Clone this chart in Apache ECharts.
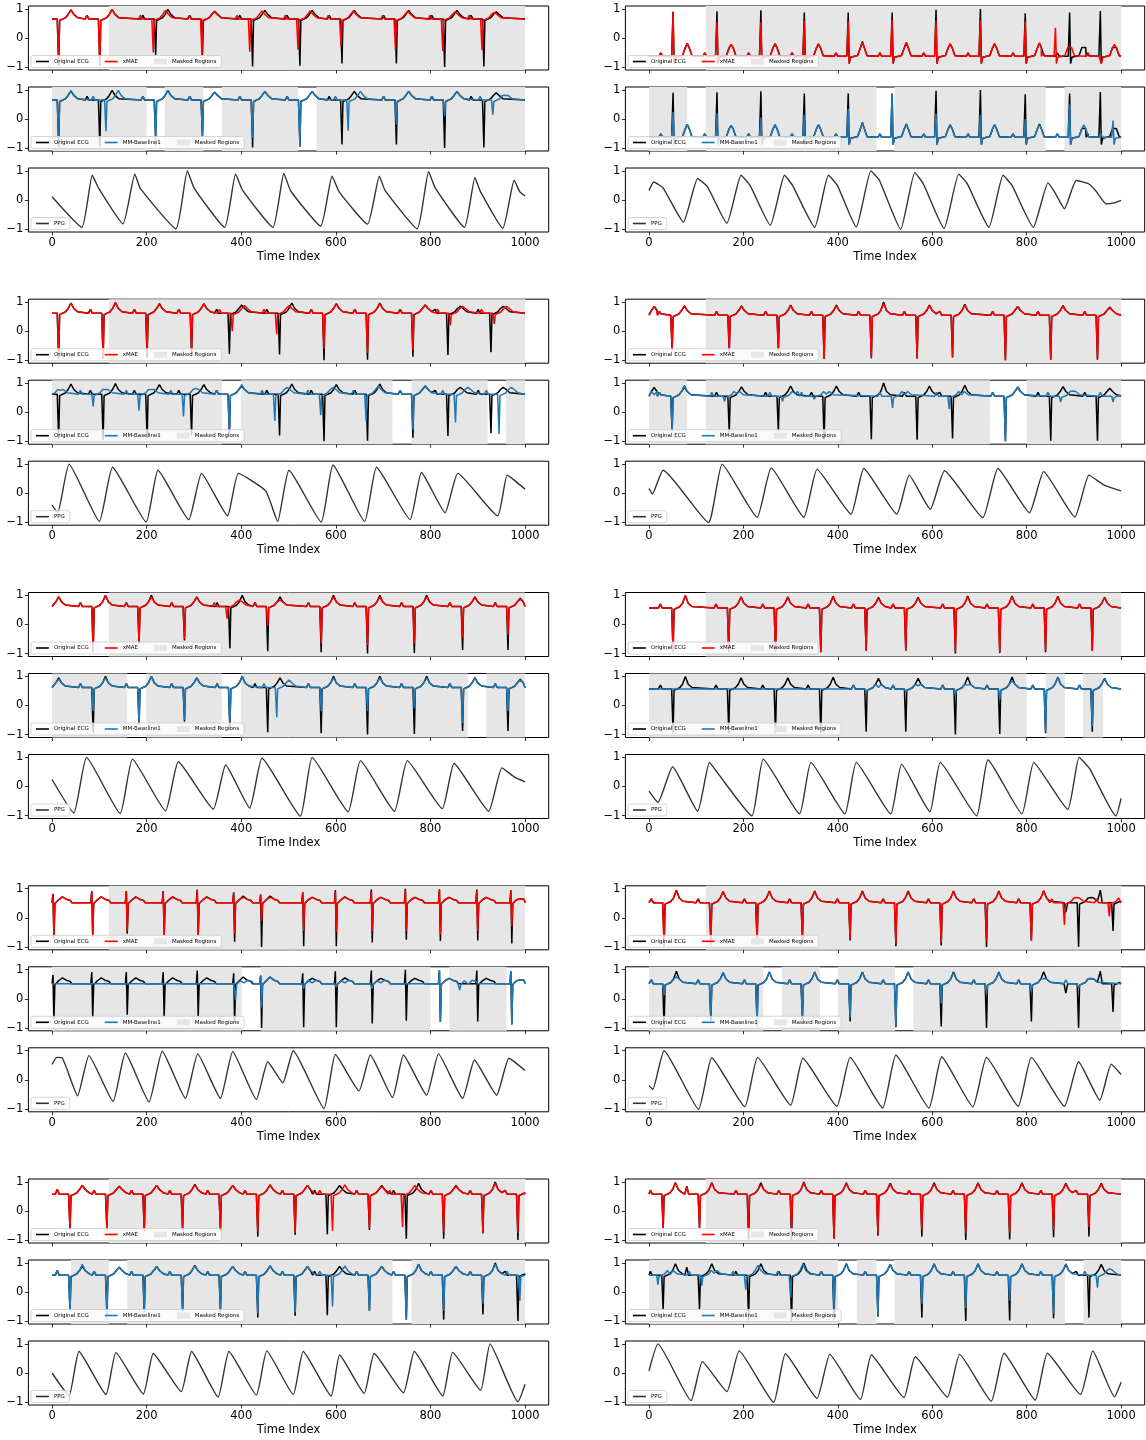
<!DOCTYPE html>
<html><head><meta charset="utf-8">
<script src="https://cdn.jsdelivr.net/npm/echarts@6/dist/echarts.min.js"></script>
<style>html,body{margin:0;padding:0;background:#fff}#c{width:1146px;height:1440px}</style>
</head><body><div id="c"></div><script>
// ---------- tick labels ----------
const xTickValues = [0, 200, 400, 600, 800, 1000];
const yTickValues = [-1, 0, 1];
// ---------- names ----------
const nameOrig = 'Original ECG', nameA = 'xMAE', nameB = 'MM-Baseline1', namePPG = 'PPG', nameMask = 'Masked Regions';

// ---------- data ----------
// ECG beats: [time index, spike value, T-wave peak, (optional P-wave value)]  (panel 7: [t, up, down, T])
// Panel 1
const ecg1 = [[14,-0.95,0.97],[101,-0.95,0.98],[219,-0.6,0.98],[318,-0.6,0.92],[424,-0.98,0.95],[524,-0.95,0.95],[613,-0.88,0.95],[728,-0.88,0.95],[830,-1.0,0.95],[913,-0.98,0.9]];
const xmae1 = [[14,-0.95,0.97],[101,-0.95,0.98],[214,-0.5,0.95],[317,-0.6,0.9],[418,-0.47,0.93],[520,-0.4,0.93],[611,-0.3,0.93],[726,-0.4,0.93],[826,-0.45,0.9],[909,-0.42,0.88]];
const mm1 = [[14,-0.6,0.97],[114,-0.42,0.98],[219,-0.95,0.98],[318,-0.6,0.92],[424,-0.65,0.95],[524,-0.95,0.95],[626,-0.4,0.95],[728,-0.2,0.95],[830,0.1,0.95],[932,0.15,0.82]];
const maskX1 = [[120,1000]];
const maskM1 = [[0,200],[238,320],[359,520],[559,1000]];
const ppg1 = [[0,0.11],[63,-0.94],[85,0.85],[99,0.39],[150,-0.82],[175,0.89],[187,0.39],[262,-0.99],[286,1.0],[301,0.39],[365,-0.94],[388,0.89],[403,0.33],[467,-0.94],[490,0.91],[505,0.3],[568,-0.9],[592,0.82],[607,0.28],[667,-0.83],[692,0.82],[704,0.33],[772,-0.99],[796,0.97],[811,0.39],[872,-0.94],[894,0.77],[906,0.28],[953,-0.97],[977,0.68],[989,0.28],[1000,0.14]];
// Panel 2
const ecg2 = [[51,0.9,-0.18],[144,0.92,-0.22],[237,0.95,-0.2],[329,0.88,-0.2],[422,0.88,-0.12],[515,0.88,-0.17],[608,0.97,-0.2],[702,1.0,-0.2],[797,0.85,-0.17],[891,0.88,-0.28],[956,0.93,-0.28]];
const xmae2 = [[51,0.9,-0.18],[144,0.56,-0.22],[237,0.55,-0.2],[329,0.58,-0.22],[422,0.57,-0.15],[515,0.63,-0.15],[608,0.6,-0.2],[702,0.6,-0.2],[797,0.57,-0.17],[861,0.35,-0.35],[956,-0.6,-0.22]];
const mm2 = [[51,0.24,-0.18],[144,0.2,-0.22],[237,0.05,-0.2],[329,0.15,-0.2],[422,0.35,-0.15],[515,0.88,-0.17],[608,0.18,-0.2],[702,0.15,-0.2],[797,0.0,-0.2],[891,0.5,-0.2],[983,-0.05,-0.5]];
const maskX2 = [[120,1000]];
const maskM2 = [[0,81],[120,482],[520,840],[880,1000]];
const ppg2 = [[0,0.33],[10,0.62],[30,0.41],[73,-0.76],[103,0.74],[124,0.45],[165,-0.8],[195,0.85],[214,0.5],[257,-0.87],[287,0.85],[304,0.5],[351,-0.94],[380,0.85],[399,0.5],[439,-0.93],[470,1.0],[488,0.68],[533,-1.01],[563,0.94],[581,0.56],[625,-0.98],[656,0.89],[674,0.56],[720,-0.94],[750,0.85],[769,0.5],[814,-0.94],[845,0.59],[859,0.28],[880,-0.3],[905,0.67],[932,0.55],[947,0.3],[968,-0.13],[985,-0.1],[1000,-0.01]];
// Panel 3
const ecg3 = [[14,-0.95,0.97],[108,-0.95,0.98],[201,-0.9,0.95],[295,-0.8,0.95],[375,-0.78,0.9],[481,-0.8,0.97],[575,-1.0,0.95],[667,-0.98,0.97],[763,-0.88,0.9],[837,-0.82,0.85],[928,-0.72,0.85]];
const xmae3 = [[14,-0.95,0.97],[108,-0.95,0.98],[201,-0.65,0.93],[295,-0.6,0.93],[381,0.0,0.88],[475,-0.1,0.88],[575,-0.6,0.93],[667,-0.75,0.95],[763,-0.65,0.9],[842,0.2,0.85],[935,0.25,0.85]];
const mm3 = [[-8,0.6,0.75],[87,0.2,0.78],[184,0.05,0.78],[278,-0.15,0.82],[375,-0.75,0.95],[471,-0.3,0.85],[568,-0.1,0.85],[664,-0.3,0.9],[763,-0.6,0.9],[853,-0.35,0.85],[945,-0.75,0.85]];
const maskX3 = [[120,1000]];
const maskM3 = [[0,359],[399,720],[760,921],[960,1000]];
const ppg3 = [[0,-0.41],[12,-0.67],[36,1.0],[100,-0.97],[128,0.89],[199,-0.99],[224,0.79],[289,-0.91],[316,0.68],[371,-0.78],[394,0.68],[452,0.07],[477,-0.97],[501,0.79],[569,-0.99],[594,0.97],[661,-0.97],[686,0.89],[757,-0.91],[781,0.71],[831,-0.67],[858,0.68],[942,-0.78],[962,0.62],[977,0.45],[1000,0.14]];
// Panel 4
const ecg4 = [[-15,0.55,0.85],[49,-0.65,0.87],[170,-0.7,0.87],[274,-0.65,0.9],[371,-0.95,0.9],[471,-0.93,1.0],[568,-0.95,0.9],[643,-0.9,0.92],[755,-1.0,0.85],[851,-0.98,0.88],[950,-0.98,0.82]];
const xmae4 = [[-15,0.55,0.85],[49,-0.65,0.87],[170,-0.65,0.85],[274,-0.65,0.88],[371,-0.95,0.87],[471,-0.9,0.95],[568,-0.92,0.88],[643,-0.88,0.9],[755,-1.0,0.85],[851,-0.95,0.85],[950,-0.95,0.8]];
const mm4 = [[-15,0.55,0.6],[49,-0.62,0.92],[160,0.37,0.65],[283,0.37,0.65],[350,0.45,0.62],[516,0.15,0.6],[636,0.1,0.6],[755,-1.0,0.88],[872,0.35,0.73],[983,0.35,0.55]];
const maskX4 = [[120,1000]];
const maskM4 = [[0,81],[120,722],[800,1000]];
const ppg4 = [[0,0.16],[7,-0.03],[30,0.79],[126,-1.01],[155,1.0],[229,-0.83],[259,0.87],[328,-0.83],[356,0.82],[428,-0.72],[455,0.85],[525,-0.72],[551,0.62],[596,-0.55],[626,0.77],[707,-0.84],[739,0.85],[806,-0.67],[836,0.74],[902,-0.82],[932,0.62],[964,0.28],[1000,0.08]];
// Panel 5
const ecg5 = [[-12,0.7,0.95],[87,-0.95,1.0],[184,-0.65,1.0],[280,-0.55,0.95],[376,-0.82,1.0],[456,-0.92,0.95],[569,-0.95,1.0],[667,-1.0,1.0],[766,-0.98,1.0],[868,-0.88,0.95],[964,-0.88,0.9]];
const xmae5 = [[-12,0.7,0.95],[87,-0.95,1.0],[184,-0.65,0.95],[280,-0.5,0.93],[370,0.2,0.85],[456,-0.05,0.85],[569,-0.65,0.95],[667,-0.7,0.95],[766,-0.65,0.95],[868,-0.45,0.92],[964,-0.35,0.88]];
const mm5 = [[-12,0.7,0.9],[87,-0.2,0.95],[184,-0.65,1.0],[280,-0.5,0.95],[376,-0.65,1.0],[475,-0.4,0.88],[569,-0.2,0.95],[667,-0.2,0.95],[766,-0.1,0.95],[868,-0.6,0.95],[964,-0.2,0.88]];
const maskX5 = [[120,1000]];
const maskM5 = [[0,159],[199,359],[399,879],[918,1000]];
const ppg5 = [[0,0.24],[46,-0.91],[73,1.0],[144,-0.93],[170,0.94],[240,-0.84],[267,0.85],[341,-0.78],[367,0.74],[418,-0.74],[444,0.97],[525,-1.02],[550,1.0],[626,-0.87],[652,0.89],[724,-0.85],[751,0.89],[825,-0.76],[850,0.79],[923,-0.85],[951,0.64],[977,0.33],[1000,0.16]];
// Panel 6
const ecg6 = [[51,-0.95,1.0],[169,-0.95,0.95],[268,-0.95,0.95],[364,-0.95,0.97],[460,-0.9,0.93],[544,-0.9,0.93],[649,-1.0,0.98],[743,-0.98,0.98],[840,-0.95,0.97],[939,-0.9,0.93]];
const xmae6 = [[51,-0.95,1.0],[169,-0.95,0.93],[268,-0.95,0.93],[364,-0.95,0.95],[460,-0.9,0.9],[544,-0.9,0.9],[649,-0.95,0.95],[743,-0.95,0.95],[840,-0.92,0.95],[939,-0.9,0.92]];
const mm6 = [[460,0.45,0.62],[544,0.45,0.68],[649,0.35,0.7],[743,0.2,0.85],[840,-0.92,0.98],[939,-0.7,0.92]];
const maskX6 = [[120,1000]];
const maskM6 = [[0,800],[840,881],[919,962]];
const ppg6 = [[0,-0.16],[19,-0.55],[50,0.68],[103,-0.85],[128,0.83],[146,0.45],[218,-1.01],[242,0.94],[319,-0.94],[343,0.83],[415,-0.94],[439,0.83],[512,-0.94],[535,0.76],[595,-0.87],[617,0.83],[694,-1.01],[718,0.92],[790,-0.94],[815,0.82],[887,-0.79],[911,1.0],[934,0.6],[989,-1.01],[1000,-0.41]];
// Panel 7 (beats: [t, up, down, T])
const ecg7 = [[2,0.82,-0.7,0.72],[84,0.92,-0.65,0.72],[157,0.92,-0.55,0.72],[235,0.92,-0.6,0.72],[307,0.97,-0.6,0.72],[384,0.88,-0.82,0.75],[441,0.8,-1.0,0.75],[530,0.88,-0.98,0.7],[599,0.95,-0.98,0.72],[675,0.97,-0.85,0.7],[747,1.0,-0.75,0.7],[819,0.98,-0.8,0.7],[898,0.97,-0.78,0.7],[970,0.95,-0.88,0.65]];
const xmae7 = [[2,0.82,-0.7,0.72],[84,0.92,-0.65,0.72],[157,0.9,-0.45,0.7],[235,0.9,-0.6,0.7],[307,0.95,-0.58,0.7],[384,0.85,-0.55,0.7],[441,0.8,-0.1,0.7],[530,0.88,-0.45,0.7],[599,0.9,-0.5,0.7],[675,0.9,-0.45,0.7],[747,0.95,-0.45,0.7],[819,0.95,-0.58,0.7],[898,0.92,-0.45,0.7],[970,0.92,-0.3,0.65]];
const mm7 = [[386,0.5,-0.05,0.55],[441,0.8,-0.3,0.75],[530,0.5,0.35,0.55],[599,0.5,0.4,0.55],[675,0.5,0.35,0.55],[819,0.98,-0.8,0.7],[860,0.5,0.3,0.5],[970,0.95,-0.88,0.65]];
const maskX7 = [[120,1000]];
const maskM7 = [[0,401],[441,800],[840,961]];
const ppg7 = [[0,0.53],[10,0.77],[21,0.76],[54,-0.55],[78,0.83],[129,-0.74],[155,0.92],[205,-0.76],[233,0.98],[282,-0.64],[308,0.89],[356,-0.64],[382,0.97],[432,-0.68],[456,0.62],[488,-0.1],[510,1.0],[575,-0.99],[599,0.87],[649,-0.38],[673,0.85],[720,-0.61],[743,0.85],[792,-0.53],[817,0.89],[868,-0.64],[893,0.68],[940,-0.53],[966,0.74],[1000,0.32]];
// Panel 8
const ecg8 = [[32,-0.98,0.95],[131,-0.75,0.9],[229,-0.75,0.92],[325,-0.7,0.92],[426,-0.78,0.92],[523,-0.98,0.92],[619,-0.95,0.92],[715,-1.0,0.92],[810,-0.78,0.93],[910,-1.0,0.7,0.2],[983,-0.45,0.95,0.95]];
const xmae8 = [[32,-0.98,0.95],[131,-0.95,0.9],[229,-0.85,0.9],[325,-0.75,0.9],[426,-0.72,0.88],[523,-0.9,0.9],[619,-0.85,0.9],[715,-0.8,0.9],[810,-0.8,0.92],[880,-0.25,0.7],[975,0.05,0.6]];
const mm8 = [[32,0.13,0.75],[131,-0.6,0.9],[229,-0.95,0.92],[325,-0.6,0.92],[426,-0.65,0.9],[523,-0.95,0.92],[619,-0.15,0.88],[715,0.15,0.9],[810,0.25,0.7],[910,0.35,0.7]];
const maskX8 = [[120,1000]];
const maskM8 = [[0,242],[281,362],[400,521],[560,1000]];
const ppg8 = [[0,-0.2],[8,-0.33],[32,1.0],[105,-1.01],[133,0.76],[203,-0.93],[230,0.77],[300,-0.87],[326,0.74],[398,-0.91],[426,0.77],[495,-0.97],[523,0.85],[593,-0.97],[620,0.79],[686,-0.93],[715,0.77],[782,-0.91],[810,0.77],[880,-0.91],[910,0.62],[955,-0.7],[979,0.54],[1000,0.18]];
// Panel 9
const ecg9 = [[38,-0.65,0.88,0.75],[116,-0.65,0.85],[195,-0.7,0.88],[276,-0.65,0.92],[356,-0.68,0.88],[435,-0.88,0.9],[514,-0.82,0.88],[582,-0.8,0.88],[671,-0.65,0.88],[749,-0.95,0.95],[828,-0.95,0.88],[911,-0.77,1.0],[985,-1.0,0.6]];
const xmae9 = [[38,-0.65,0.88,0.75],[116,-0.65,0.85],[195,-0.65,0.88],[276,-0.6,0.9],[356,-0.6,0.88],[435,-0.7,0.9],[514,-0.75,0.88],[593,-0.68,0.9],[671,-0.6,0.85],[741,-0.55,0.88],[828,-0.7,0.85],[911,-0.75,0.95],[985,-0.75,0.55]];
const mm9 = [[38,-0.65,0.95,0.75],[116,-0.95,0.85],[195,-0.65,0.88],[276,-0.6,0.9],[356,-0.6,0.88],[435,-0.75,0.9],[514,-0.7,0.88],[593,-0.5,0.9],[671,-0.65,0.88],[749,-0.95,0.95],[828,-0.65,0.88],[911,-0.4,0.95],[989,-0.3,0.55]];
const maskX9 = [[120,1000]];
const maskM9 = [[40,120],[159,720],[760,1000]];
const ppg9 = [[0,0.0],[36,-0.78],[57,0.74],[114,-0.74],[135,0.7],[193,-0.72],[214,0.67],[273,-0.64],[295,0.74],[351,-0.83],[374,0.74],[432,-0.76],[454,0.76],[510,-0.74],[531,0.74],[590,-0.79],[608,0.62],[660,-0.7],[681,0.67],[743,-0.68],[766,0.74],[826,-0.79],[847,0.71],[906,-0.59],[926,1.0],[985,-0.99],[1000,-0.39]];
// Panel 10
const ecg10 = [[30,-0.6,0.97],[107,-0.6,0.97,0.85],[211,-0.98,0.97],[302,-1.0,1.0],[392,-0.95,0.97],[485,-0.85,0.95],[578,-0.88,0.97],[671,-1.0,0.97],[764,-0.98,0.97],[857,-0.9,0.95],[932,-0.88,0.95]];
const xmae10 = [[30,-0.6,0.97],[107,-0.6,0.97,0.85],[211,-0.7,0.9],[302,-0.6,0.97],[392,-0.95,0.95],[485,-0.8,0.92],[578,-0.65,0.93],[671,-0.75,0.95],[764,-0.75,0.95],[857,-0.65,0.93],[932,-0.55,0.92]];
const mm10 = [[19,0.25,0.6],[112,0.22,0.65],[205,0.08,0.92],[300,-0.2,0.97],[392,-0.6,0.97],[485,-0.85,0.95],[578,-0.4,0.95],[671,-0.55,0.95],[764,-0.3,0.95],[857,-0.75,0.97],[950,0.15,0.8]];
const maskX10 = [[120,1000]];
const maskM10 = [[0,400],[440,482],[520,881],[920,1000]];
const ppg10 = [[0,0.07],[19,1.0],[89,-0.95],[113,0.39],[165,-0.64],[191,0.76],[264,-1.01],[289,0.66],[356,-0.87],[383,0.64],[448,-0.91],[471,0.62],[540,-0.84],[564,0.56],[632,-0.83],[658,0.64],[725,-0.97],[752,0.68],[818,-0.93],[844,0.68],[914,-0.74],[940,0.76],[986,-0.82],[1000,-0.32]];
// ECG baseline level of each panel
const baselines = [0.65, -0.63, 0.62, 0.55, 0.62, 0.57, 0.52, 0.52, 0.58, 0.58];

// ---------- beat shapes (offset in samples, offset from baseline, beat-value index) ----------
const SHAPES = {
  A: [[-31,0],[-27,0.13,3],[-23,0],[-3,0],[-1,-0.03],[0,0,1],[2,-0.05],[4,0],[14,0.04],[20,0.16],[26,0.3,2],[32,0.16],[40,0.05]],
  B: [[-30,0],[-26,0.12],[-22,0],[-3,0],[0,0,1],[2,-0.25],[5,-0.03],[20,0.03],[26,0.3],[30,0,2],[34,0.3],[40,0.02]],
  C: [[-2,0],[0,0,1],[2,0,2],[4,-0.03],[12,0.1],[20,0,3],[28,0.12],[36,0.08],[40,0]]
};
const panelShape = ['A','B','A','A','A','A','C','A','A','A'];

const panels = [
  [ecg1,xmae1,mm1,maskX1,maskM1,ppg1],[ecg2,xmae2,mm2,maskX2,maskM2,ppg2],
  [ecg3,xmae3,mm3,maskX3,maskM3,ppg3],[ecg4,xmae4,mm4,maskX4,maskM4,ppg4],
  [ecg5,xmae5,mm5,maskX5,maskM5,ppg5],[ecg6,xmae6,mm6,maskX6,maskM6,ppg6],
  [ecg7,xmae7,mm7,maskX7,maskM7,ppg7],[ecg8,xmae8,mm8,maskX8,maskM8,ppg8],
  [ecg9,xmae9,mm9,maskX9,maskM9,ppg9],[ecg10,xmae10,mm10,maskX10,maskM10,ppg10]
];

function beatLine(beats, shape, base){
  const pts = [];
  beats.forEach(b => shape.forEach(t => {
    const x = b[0] + t[0];
    const y = (t[2] != null && b[t[2]] != null) ? b[t[2]] : base + t[1];
    if (x >= 0 && x <= 1000) pts.push([x, y]);
  }));
  pts.sort((p, q) => p[0] - q[0]);
  if (!pts.length || pts[0][0] > 0) pts.unshift([0, base]);
  if (pts[pts.length-1][0] < 1000) pts.push([1000, base]);
  return pts;
}

// ---------- layout ----------
const FONT = 'DejaVu Sans';
const COL_LEFT = [28.4, 625.4], COL_W = [520.3, 519.3];
const ROW_TOP = [6, 299.2, 592.5, 885.8, 1179];
const SUB_OFF = [0, 81, 162], SUB_H = 64;
const MASK_COLOR = '#e6e6e6';
const LINE_ICON = 'path://M0,0 M0,2.2 L13,2.2 L13,3.8 L0,3.8 Z M13,6';
const fmtY = v => (v < 0 ? '\u2212' + Math.abs(v) : String(v));
const fmtX = v => String(v);

const grids = [], xAxes = [], yAxes = [], series = [], legends = [];

function maskSeries(k, masks){
  return {
    type: 'custom', name: nameMask, xAxisIndex: k, yAxisIndex: k, z: 1, silent: true,
    itemStyle: { color: MASK_COLOR },
    data: masks.map(m => [m[0], m[1], 0]),
    encode: { x: [0, 1], y: 2 },
    renderItem: (params, api) => {
      const c = params.coordSys;
      const x0 = api.coord([api.value(0), 0])[0];
      const x1 = api.coord([api.value(1), 0])[0];
      return { type: 'rect', shape: { x: x0, y: c.y, width: x1 - x0, height: c.height }, style: { fill: MASK_COLOR } };
    }
  };
}
function lineSeries(k, name, data, color, width, z, smooth){
  return { type: 'line', name, xAxisIndex: k, yAxisIndex: k, data, symbol: 'none', showSymbol: false,
    smooth: smooth || false, z, lineStyle: { color, width }, itemStyle: { color, borderWidth: 0 }, emphasis: { disabled: true } };
}
function legendFor(left, top, items){
  legends.push({
    left: left + 2.5, top: top + 49.5, orient: 'horizontal',
    itemWidth: 13, itemHeight: 6, itemGap: 16,
    padding: [3, 5, 3, 5],
    backgroundColor: 'rgba(255,255,255,0.8)', borderColor: '#cccccc', borderWidth: 0.8, borderRadius: 2,
    itemStyle: { borderWidth: 0 },
    lineStyle: { width: 0 },
    textStyle: { fontSize: 5.5, fontFamily: FONT, color: '#000' },
    selectedMode: false,
    data: items
  });
}
const lineItem = n => ({ name: n, icon: LINE_ICON });
const maskItem = { name: nameMask, icon: 'rect' };

panels.forEach((P, i) => {
  const col = i % 2, row = Math.floor(i / 2);
  const shape = SHAPES[panelShape[i]], base = baselines[i];
  const orig = beatLine(P[0], shape, base);
  for (let s = 0; s < 3; s++) {
    const k = grids.length;
    const top = ROW_TOP[row] + SUB_OFF[s], left = COL_LEFT[col];
    grids.push({ left, top, width: COL_W[col], height: SUB_H, show: true, borderColor: '#000', borderWidth: 1, backgroundColor: 'transparent' });
    xAxes.push({
      gridIndex: k, type: 'value', min: -50, max: 1050,
      axisLine: { show: false, onZero: false },
      axisTick: { show: true, customValues: xTickValues, length: 3.5, lineStyle: { color: '#000', width: 0.8 } },
      axisLabel: { show: s === 2, customValues: xTickValues, fontSize: 11.5, color: '#000', fontFamily: FONT, margin: 5, formatter: fmtX },
      splitLine: { show: false },
      name: s === 2 ? 'Time Index' : '', nameLocation: 'middle', nameGap: 19,
      nameTextStyle: { fontSize: 11.5, color: '#000', fontFamily: FONT }
    });
    yAxes.push({
      gridIndex: k, type: 'value', min: -1.1, max: 1.1,
      axisLine: { show: false, onZero: false },
      axisTick: { show: true, customValues: yTickValues, length: 3.5, lineStyle: { color: '#000', width: 0.8 } },
      axisLabel: { show: true, customValues: yTickValues, fontSize: 11.5, color: '#000', fontFamily: FONT, margin: 5, formatter: fmtY },
      splitLine: { show: false }
    });
    if (s === 0) {
      series.push(maskSeries(k, P[3]));
      series.push(lineSeries(k, nameOrig, orig, '#000000', 1.5, 2));
      series.push(lineSeries(k, nameA, beatLine(P[1], shape, base), '#ff0000', 1.5, 3));
      legendFor(left, top, [lineItem(nameOrig), lineItem(nameA), maskItem]);
    } else if (s === 1) {
      series.push(maskSeries(k, P[4]));
      series.push(lineSeries(k, nameOrig, orig, '#000000', 1.5, 2));
      series.push(lineSeries(k, nameB, beatLine(P[2], shape, base), '#1f77b4', 1.5, 3));
      legendFor(left, top, [lineItem(nameOrig), lineItem(nameB), maskItem]);
    } else {
      series.push(lineSeries(k, namePPG, P[5], '#333333', 1.4, 2, 0.15));
      legendFor(left, top, [lineItem(namePPG)]);
    }
  }
});

const chart = echarts.init(document.getElementById('c'), null, { renderer: 'canvas' });
chart.setOption({
  animation: false,
  backgroundColor: '#ffffff',
  textStyle: { fontFamily: FONT },
  grid: grids, xAxis: xAxes, yAxis: yAxes, legend: legends, series
});
</script></body></html>
